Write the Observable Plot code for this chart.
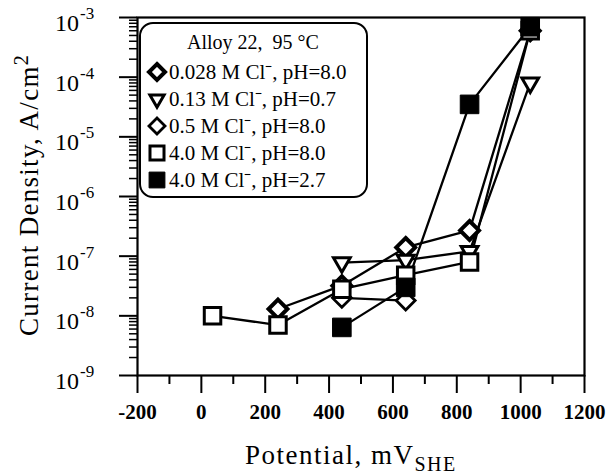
<!DOCTYPE html>
<html>
<head>
<meta charset="utf-8">
<script src="https://cdn.jsdelivr.net/npm/d3@7"></script>
<script src="https://cdn.jsdelivr.net/npm/@observablehq/plot@0.6"></script>
<style>
  html, body { margin: 0; padding: 0; background: #fff; }
  svg { display: block; }
</style>
</head>
<body>
<div id="chart"></div>
<script>
// ---- data ----
const seriesNames = [
  "0.028 M Cl\u207B, pH=8.0",
  "0.13 M Cl\u207B, pH=0.7",
  "0.5 M Cl\u207B, pH=8.0",
  "4.0 M Cl\u207B, pH=8.0",
  "4.0 M Cl\u207B, pH=2.7"
];
const legendTitle = "Alloy 22,  95 \u00B0C";

const potA = [240, 440, 640, 840, 1030];
const curA = [1.3e-8, 3.2e-8, 1.4e-7, 2.7e-7, 6e-4];

const potB = [440, 640, 840, 1030];
const curB = [7.8e-8, 8.6e-8, 1.2e-7, 8e-5];

const potC = [440, 640];
const curC = [2.0e-8, 1.8e-8];

const potD = [35, 240, 440, 640, 840, 1030];
const curD = [1.0e-8, 7e-9, 2.8e-8, 4.8e-8, 8e-8, 6e-4];

const potE = [440, 640, 840, 1030];
const curE = [6.4e-9, 3.0e-8, 3.5e-5, 7e-4];

const xMajor = [-200, 0, 200, 400, 600, 800, 1000, 1200];
const xMinor = [-100, 100, 300, 500, 700, 900, 1100];
const yExponents = [-9, -8, -7, -6, -5, -4, -3];

const xTitle = "Potential, mV";
const xTitleSub = "SHE";
const yTitle = "Current Density, A/cm";
const yTitleSup = "2";

// ---- build table ----
const pots = [potA, potB, potC, potD, potE];
const curs = [curA, curB, curC, curD, curE];
const rows = [];
pots.forEach((p, i) => p.forEach((x, j) => rows.push({s: seriesNames[i], x, y: curs[i][j]})));

const yMajor = yExponents.map(e => Math.pow(10, e));
const yMinor = [];
for (let e = -9; e < -3; e++) for (let m = 2; m <= 9; m++) yMinor.push(m * Math.pow(10, e));

// styles per series
const styles = [
  {symbol: "diamond2", fill: "white", sw: 4, r: 8.5, rotate: 0},
  {symbol: "triangle2", fill: "white", sw: 3, r: 8, rotate: 180},
  {symbol: "diamond2", fill: "white", sw: 2.8, r: 8.5, rotate: 0},
  {symbol: "square2", fill: "white", sw: 3, r: 10.5, rotate: 0},
  {symbol: "square", fill: "black", sw: 1, r: 10.5, rotate: 0}
];

const font = "'Liberation Serif', 'Times New Roman', serif";

const dotMarks = seriesNames.map((name, i) => Plot.dot(rows.filter(d => d.s === name), {
  x: "x", y: "y", symbol: styles[i].symbol, r: styles[i].r, rotate: styles[i].rotate,
  fill: styles[i].fill, stroke: "black", strokeWidth: styles[i].sw
}));

const chart = Plot.plot({
  width: 609, height: 476,
  marginLeft: 137, marginRight: 25, marginTop: 17, marginBottom: 101,
  style: {fontFamily: font, background: "white", color: "black"},
  x: {domain: [-200, 1200]},
  y: {type: "log", domain: [1e-9, 1e-3]},
  marks: [
    Plot.axisX({ticks: xMinor, tickSize: 9, tickFormat: () => "", label: null, strokeWidth: 2}),
    Plot.axisX({ticks: xMajor, tickSize: 18, tickPadding: 11, tickFormat: d => String(d), fontSize: 21, fontWeight: "bold", label: null, strokeWidth: 2}),
    Plot.axisY({ticks: yMinor, tickSize: 8, tickFormat: () => "", label: null, strokeWidth: 1.5}),
    Plot.axisY({ticks: yMajor, tickSize: 18, tickFormat: () => "", label: null, strokeWidth: 2}),
    Plot.frame({stroke: "black", strokeWidth: 2.2}),
    Plot.line(rows, {x: "x", y: "y", z: "s", stroke: "black", strokeWidth: 2.3}),
    ...dotMarks
  ]
});

document.getElementById("chart").appendChild(chart);

const svg = d3.select(chart);
const ys = chart.scale("y");

// y tick labels with superscripts
yExponents.forEach(e => {
  const yy = ys.apply(Math.pow(10, e));
  svg.append("text")
    .attr("x", 79).attr("y", yy + 14)
    .attr("text-anchor", "end")
    .style("font-family", font).style("font-size", "24px")
    .text("10");
  svg.append("text")
    .attr("x", 80).attr("y", yy + 2)
    .attr("text-anchor", "start")
    .style("font-family", font).style("font-size", "17px")
    .text(String(e));
});

// axis titles
const xt = svg.append("text")
  .attr("x", 245).attr("y", 464)
  .attr("text-anchor", "start")
  .style("font-family", font).style("font-size", "27px").style("letter-spacing", "1.5px");
xt.append("tspan").text(xTitle);
xt.append("tspan").attr("dy", 7).style("font-size", "20px").text(xTitleSub);

const yt = svg.append("text")
  .attr("transform", "translate(38,336) rotate(-90)")
  .attr("text-anchor", "start")
  .style("font-family", font).style("font-size", "27px").style("letter-spacing", "1.3px");
yt.append("tspan").text(yTitle);
yt.append("tspan").attr("dy", -10).style("font-size", "20px").text(yTitleSup);

// legend
const lg = svg.append("g").attr("text-anchor", "start");
lg.append("rect")
  .attr("x", 140).attr("y", 23).attr("width", 227).attr("height", 174)
  .attr("rx", 13).attr("fill", "white").attr("stroke", "black").attr("stroke-width", 2);
lg.append("text")
  .attr("x", 253).attr("y", 49).attr("text-anchor", "middle")
  .style("font-family", font).style("font-size", "20px")
  .text(legendTitle);
const symMap = {diamond2: d3.symbolDiamond2, triangle2: d3.symbolTriangle2, square2: d3.symbolSquare2, square: d3.symbolSquare};
seriesNames.forEach((name, i) => {
  const cy = 72 + i * 27;
  const st = styles[i];
  const r = st.r * 0.85;
  lg.append("path")
    .attr("d", d3.symbol(symMap[st.symbol], Math.PI * r * r)())
    .attr("transform", `translate(157,${cy}) rotate(${st.rotate})`)
    .attr("fill", st.fill).attr("stroke", "black").attr("stroke-width", st.sw);
  lg.append("text")
    .attr("x", 169).attr("y", cy + 7)
    .attr("text-anchor", "start")
    .style("font-family", font).style("font-size", "21px")
    .text(name);
});
</script>
</body>
</html>
